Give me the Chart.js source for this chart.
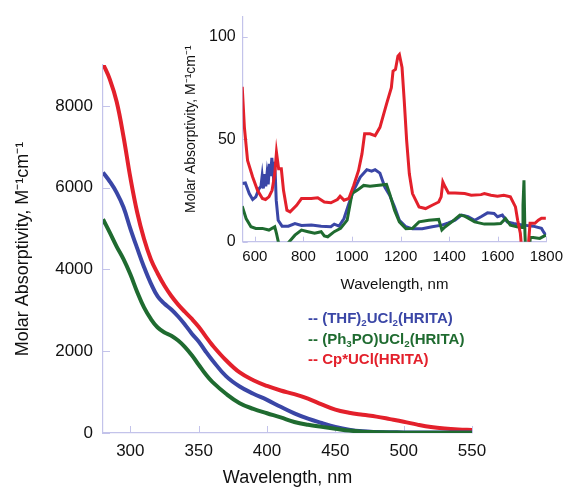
<!DOCTYPE html>
<html>
<head>
<meta charset="utf-8">
<script src="https://cdn.jsdelivr.net/npm/chart.js@4.4.0/dist/chart.umd.min.js"></script>
<style>
  html, body { margin: 0; padding: 0; background: #fff; }
  #wrap { position: relative; width: 569px; height: 489px; }
  #mainChart { position: absolute; left: 0; top: 0; }
  #insetChart { position: absolute; left: 170px; top: 0; }
  #legend { position: absolute; left: 308px; top: 308px; font: bold 15px "Liberation Sans", Arial, sans-serif; line-height: 20.5px; white-space: nowrap; }
  #legend sub { font-size: 0.65em; vertical-align: -0.3em; line-height: 0; }
</style>
</head>
<body>
<div id="wrap">
  <canvas id="mainChart" width="569" height="489"></canvas>
  <canvas id="insetChart" width="399" height="294"></canvas>
  <div id="legend">
    <div style="color:#3a46a6">-- (THF)<sub>2</sub>UCl<sub>2</sub>(HRITA)</div>
    <div style="color:#1f6b30">-- (Ph<sub>3</sub>PO)UCl<sub>2</sub>(HRITA)</div>
    <div style="color:#e3202b">-- Cp*UCl(HRITA)</div>
  </div>
</div>
<script>
// main plot (UV-vis)
const mainX = [280, 285, 290, 295, 300, 305, 310, 315, 320, 325, 330, 335, 340, 345, 350, 355, 360, 370, 380, 390, 400, 410, 420, 430, 440, 450, 460, 470, 480, 490, 500, 510, 520, 530, 540, 550];
const mainRed   = [9030, 8650, 8100, 7250, 6250, 5400, 4750, 4250, 3900, 3600, 3350, 3140, 2960, 2790, 2600, 2370, 2150, 1780, 1480, 1290, 1150, 1040, 950, 840, 700, 570, 495, 445, 400, 340, 277, 205, 145, 108, 86, 74];
const mainBlue  = [6373, 6150, 5880, 5520, 5000, 4520, 4060, 3660, 3340, 3160, 3020, 2850, 2650, 2430, 2240, 2000, 1780, 1390, 1136, 960, 810, 640, 480, 350, 245, 150, 80, 40, 25, 20, 15, 12, 10, 10, 10, 10];
const mainGreen = [5227, 4900, 4560, 4250, 3880, 3450, 3070, 2790, 2580, 2460, 2380, 2260, 2100, 1900, 1670, 1440, 1250, 960, 729, 590, 483, 380, 270, 200, 150, 105, 60, 33, 20, 12, 8, 8, 8, 8, 8, 8];
const mainXTicks = [300, 350, 400, 450, 500, 550];
const mainYTicks = [0, 2000, 4000, 6000, 8000];

// inset (NIR)
const redX = [548, 557, 570, 591, 611, 631, 644, 658, 671, 682, 689, 698, 709, 718, 732, 745, 772, 792, 832, 859, 886, 913, 940, 951, 967, 987, 1007, 1027, 1041, 1052, 1074, 1095, 1115, 1142, 1162, 1169, 1179, 1189, 1195, 1206, 1215, 1225, 1236, 1249, 1276, 1303, 1330, 1357, 1367, 1374, 1384, 1397, 1424, 1464, 1491, 1531, 1545, 1572, 1599, 1625, 1652, 1673, 1682, 1693, 1702, 1722, 1733, 1753, 1767, 1780, 1798];
const redY = [75.7, 55.9, 39.7, 31.6, 25.1, 21.1, 20.6, 21.9, 25.1, 33.2, 43.7, 35.6, 35.6, 25.1, 15.4, 14.6, 17.8, 21.1, 21.1, 21.5, 19.4, 19.0, 20.6, 22.2, 20.3, 21.1, 27.5, 34.8, 42.9, 52.7, 52.7, 51.8, 55.9, 67.2, 75.3, 83.4, 84.2, 90.7, 91.5, 85.1, 68.9, 49.4, 33.2, 23.5, 17.0, 16.2, 17.8, 19.4, 21.9, 29.2, 26.7, 23.8, 23.8, 23.5, 22.7, 23.0, 23.5, 22.7, 22.2, 22.7, 21.9, 17.0, 10.5, 4.1, -8, -8, 9, 9, 10.5, 11.5, 11.5];
const blueX = [548, 561, 577, 591, 604, 617, 625, 630, 635, 640, 645, 650, 655, 660, 665, 670, 675, 680, 684, 688, 696, 712, 738, 765, 792, 833, 873, 913, 927, 947, 967, 987, 1007, 1034, 1061, 1081, 1095, 1115, 1135, 1155, 1175, 1195, 1222, 1249, 1289, 1330, 1370, 1397, 1424, 1451, 1478, 1505, 1531, 1558, 1585, 1599, 1619, 1639, 1666, 1706, 1746, 1780, 1790, 1798];
const blueY = [28.4, 28.7, 23.5, 20.6, 21.9, 25.9, 27, 32, 26, 33, 27, 33, 28, 38, 32, 41, 34, 39, 33, 20.3, 10.5, 7.6, 7.6, 8.9, 7.9, 8.1, 7.6, 7.3, 8.6, 7.6, 11.3, 18.6, 25.1, 31.6, 35.2, 34.5, 35.2, 33.5, 26.7, 22.7, 17.0, 10.5, 7.3, 6.3, 6.3, 7.3, 8.1, 9.2, 10.5, 13.0, 12.2, 10.5, 12.2, 14.1, 13.8, 12.2, 13.0, 9.7, 8.9, 8.1, 7.6, 6.5, 4.5, 3.2];
const greenX = [548, 564, 584, 604, 631, 658, 682, 689, 698, 706, 728, 736, 765, 792, 819, 846, 873, 886, 900, 927, 953, 980, 1000, 1021, 1048, 1074, 1101, 1142, 1155, 1175, 1195, 1222, 1249, 1276, 1316, 1357, 1370, 1384, 1411, 1444, 1464, 1505, 1545, 1585, 1612, 1632, 1652, 1679, 1700, 1704, 1708, 1712, 1716, 1728, 1734, 1746, 1773, 1798];
const greenY = [17.3, 11.3, 7.3, 6.5, 6.5, 5.7, 7.3, 4.1, -0.8, -8, -8, -0.8, 3.2, 5.7, 4.9, 4.1, 4.9, 2.8, 2.4, 4.9, 6.5, 10.5, 23.5, 25.1, 27.5, 27.1, 27.5, 28.0, 23.5, 15.4, 9.7, 6.3, 6.5, 9.7, 10.5, 10.9, 5.7, 7.3, 9.7, 13.0, 12.5, 9.7, 8.6, 8.6, 8.9, 11.3, 8.1, 7.3, 7.0, 17.8, 30.0, 4.1, -8, -8, 2.1, 2.1, 1.6, 3.2];
const insetXTicks = [600, 800, 1000, 1200, 1400, 1600, 1800];
const insetYTicks = [0, 50, 100];

const RED = '#e3202b', BLUE = '#3a46a6', GREEN = '#1f6b30';
const AXIS = '#c3c3ea';
const FONT = '"Liberation Sans", Arial, sans-serif';

Chart.defaults.font.family = FONT;
Chart.defaults.color = '#111';

const pts = (xs, ys) => xs.map((x, i) => ({ x, y: ys[i] }));

// ticks drawn pointing into the plot
const innerTicks = {
  id: 'innerTicks',
  beforeDatasetsDraw(chart, args, opts) {
    const { ctx, chartArea: a } = chart;
    const len = opts.len || 6;
    ctx.save();
    ctx.strokeStyle = AXIS;
    ctx.lineWidth = 1;
    const xs = chart.scales.x, ys = chart.scales.y;
    xs.ticks.forEach(t => {
      const px = Math.round(xs.getPixelForValue(t.value)) + 0.5;
      ctx.beginPath(); ctx.moveTo(px, a.bottom); ctx.lineTo(px, a.bottom - len); ctx.stroke();
    });
    ys.ticks.forEach(t => {
      const py = Math.round(ys.getPixelForValue(t.value)) + 0.5;
      ctx.beginPath(); ctx.moveTo(a.left, py); ctx.lineTo(a.left + len, py); ctx.stroke();
    });
    ctx.restore();
  }
};

function axisOpts(tickList, fontSize, pad) {
  return {
    type: 'linear',
    afterBuildTicks: s => { s.ticks = tickList.map(v => ({ value: v })); },
    grid: { drawOnChartArea: false, drawTicks: false },
    border: { color: AXIS, width: 1.2 },
    ticks: { font: { size: fontSize }, color: '#111', padding: pad, callback: v => String(v) },
  };
}

function lineSet(data, color, width, tension) {
  return { data, borderColor: color, borderWidth: width, pointRadius: 0, tension, fill: false };
}

const mx = axisOpts(mainXTicks, 17, 8);
mx.min = 280; mx.max = 550;
mx.title = { display: true, text: 'Wavelength, nm', font: { size: 18 }, color: '#111', padding: 0 };
mx.afterFit = s => { s.height = 56; };
const my = axisOpts(mainYTicks, 17, 10);
my.min = 0; my.max = 9000;
my.title = { display: true, text: 'Molar Absorptivity, M⁻¹cm⁻¹', font: { size: 18 }, color: '#111', padding: 0 };
my.afterFit = s => { s.width = 91; };

new Chart(document.getElementById('mainChart'), {
  type: 'line',
  data: {
    datasets: [
      lineSet(pts(mainX, mainGreen), GREEN, 4, 0.4),
      lineSet(pts(mainX, mainBlue), BLUE, 4, 0.4),
      lineSet(pts(mainX, mainRed), RED, 4, 0.4),
    ],
  },
  options: {
    responsive: false,
    animation: false,
    devicePixelRatio: 1,
    layout: { padding: { left: 12, top: 65, right: 97, bottom: 0 } },
    plugins: { legend: { display: false }, tooltip: { enabled: false }, innerTicks: { len: 7 } },
    scales: { x: mx, y: my },
  },
  plugins: [innerTicks],
});

const ix = axisOpts(insetXTicks, 15, 6);
ix.min = 550; ix.max = 1800;
ix.title = { display: true, text: 'Wavelength, nm', font: { size: 15 }, color: '#111', padding: 0 };
ix.afterFit = s => { s.height = 294 - 241.7; };
const iy = axisOpts(insetYTicks, 16, 7);
iy.min = 0; iy.max = 110;
iy.title = { display: true, text: 'Molar Absorptivity, M⁻¹cm⁻¹', font: { size: 14 }, color: '#111', padding: 0 };
iy.afterFit = s => { s.width = 72.7 - 13; };

new Chart(document.getElementById('insetChart'), {
  type: 'line',
  data: {
    datasets: [
      lineSet(pts(redX, redY), RED, 3, 0),
      lineSet(pts(greenX, greenY), GREEN, 3, 0),
      lineSet(pts(blueX, blueY), BLUE, 3, 0),
    ],
  },
  options: {
    responsive: false,
    animation: false,
    devicePixelRatio: 1,
    layout: { padding: { left: 13, top: 15, right: 15.7, bottom: 0 } },
    plugins: { legend: { display: false }, tooltip: { enabled: false }, innerTicks: { len: 5 } },
    scales: { x: ix, y: iy },
  },
  plugins: [innerTicks],
});
</script>
</body>
</html>
